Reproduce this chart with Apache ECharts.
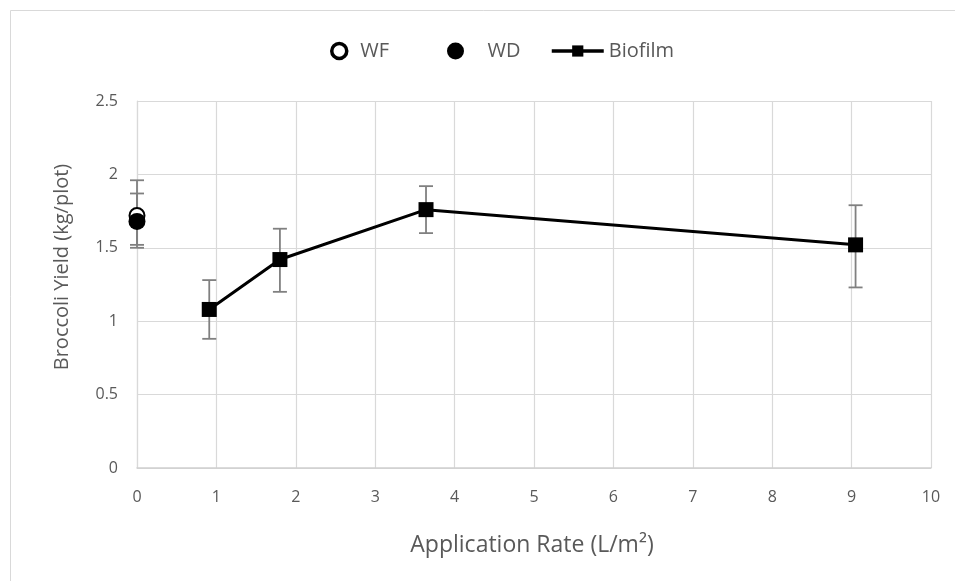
<!DOCTYPE html>
<html>
<head>
<meta charset="utf-8">
<script src="https://cdn.jsdelivr.net/npm/echarts@6/dist/echarts.min.js"></script>
<style>
  html, body { margin: 0; padding: 0; background: #fff; }
  #chart { width: 955px; height: 581px; }
</style>
</head>
<body>
<div id="chart"></div>
<script>
// controls at 0 application rate
const wfX = [0], wfY = [1.72], wfLow = [1.52], wfHigh = [1.96]
const wdX = [0], wdY = [1.68], wdLow = [1.50], wdHigh = [1.87]

// biofilm application
const bioX = [0.91, 1.8, 3.64, 9.05]
const bioY = [1.08, 1.42, 1.76, 1.52]
const bioLow = [0.88, 1.20, 1.60, 1.23]
const bioHigh = [1.28, 1.63, 1.92, 1.79]

const yTicks = [0, 0.5, 1, 1.5, 2, 2.5]

const errData = []
wfX.forEach((x, i) => errData.push([x, wfLow[i], wfHigh[i]]))
wdX.forEach((x, i) => errData.push([x, wdLow[i], wdHigh[i]]))
bioX.forEach((x, i) => errData.push([x, bioLow[i], bioHigh[i]]))

const textColor = '#595959'
const font = '"Open Sans", "Noto Sans", sans-serif'
const legendText = { color: textColor, fontSize: 20, fontFamily: font }

function renderErr(params, api) {
  const x = api.value(0)
  const lo = api.coord([x, api.value(1)])
  const hi = api.coord([x, api.value(2)])
  const cap = 7
  const style = { stroke: '#808080', lineWidth: 1.8 }
  return {
    type: 'group',
    children: [
      { type: 'line', shape: { x1: hi[0], y1: hi[1], x2: lo[0], y2: lo[1] }, style },
      { type: 'line', shape: { x1: hi[0] - cap, y1: hi[1], x2: hi[0] + cap, y2: hi[1] }, style },
      { type: 'line', shape: { x1: lo[0] - cap, y1: lo[1], x2: lo[0] + cap, y2: lo[1] }, style },
    ],
  }
}

const chart = echarts.init(document.getElementById('chart'))
chart.setOption({
  animation: false,
  backgroundColor: '#fff',
  textStyle: { fontFamily: font },
  graphic: [
    {
      type: 'rect',
      shape: { x: 10.5, y: 10.5, width: 960, height: 600 },
      style: { fill: 'none', stroke: '#d9d9d9', lineWidth: 1 },
      silent: true,
    },
    {
      type: 'text',
      x: 62, y: 267,
      rotation: Math.PI / 2,
      style: {
        text: 'Broccoli Yield (kg/plot)',
        fill: textColor, font: '20px ' + font,
        align: 'center', verticalAlign: 'middle',
      },
    },
    {
      type: 'text',
      x: 532, y: 545,
      style: {
        text: 'Application Rate (L/m²)',
        fill: textColor, font: '23px ' + font,
        align: 'center', verticalAlign: 'middle',
      },
    },
  ],
  legend: [
    {
      data: [{ name: 'WF', icon: 'circle', itemStyle: { color: '#fff', borderColor: '#000', borderWidth: 3.5 } }],
      left: 325, top: 36,
      itemWidth: 32, itemHeight: 15,
      textStyle: legendText,
    },
    {
      data: [{ name: 'WD', icon: 'circle', itemStyle: { color: '#000', opacity: 1 } }],
      left: 442, top: 36,
      itemWidth: 54, itemHeight: 17,
      textStyle: legendText,
    },
    {
      data: [{ name: 'Biofilm', lineStyle: { width: 3.5, color: '#000' } }],
      left: 545, top: 36,
      itemWidth: 52, itemHeight: 14,
      textStyle: legendText,
    },
  ],
  grid: { left: 137, right: 24, top: 101, bottom: 113 },
  xAxis: {
    type: 'value', min: 0, max: 10, interval: 1,
    axisLine: { show: true, lineStyle: { color: '#d0d0d0', width: 1.5 } },
    axisTick: { show: false },
    axisLabel: { color: textColor, fontSize: 16, margin: 21 },
    splitLine: { lineStyle: { color: '#d9d9d9', width: 1.2 } },
  },
  yAxis: {
    type: 'value', min: yTicks[0], max: yTicks[yTicks.length - 1], interval: 0.5,
    axisLine: { show: true, lineStyle: { color: '#d9d9d9', width: 1.2 } },
    axisTick: { show: false },
    axisLabel: { color: textColor, fontSize: 16, margin: 19 },
    splitLine: { lineStyle: { color: '#d9d9d9', width: 1.2 } },
  },
  series: [
    {
      name: 'errors',
      type: 'custom',
      renderItem: renderErr,
      data: errData,
      z: 1,
      silent: true,
    },
    {
      name: 'WF',
      type: 'scatter',
      symbol: 'emptyCircle',
      symbolSize: 15,
      data: wfX.map((x, i) => [x, wfY[i]]),
      itemStyle: { color: '#000', borderColor: '#000', borderWidth: 3, opacity: 1 },
      z: 3,
    },
    {
      name: 'WD',
      type: 'scatter',
      symbol: 'circle',
      symbolSize: 17,
      data: wdX.map((x, i) => [x, wdY[i]]),
      itemStyle: { color: '#000', opacity: 1 },
      z: 4,
    },
    {
      name: 'Biofilm',
      type: 'line',
      symbol: 'rect',
      symbolSize: 15,
      data: bioX.map((x, i) => [x, bioY[i]]),
      lineStyle: { color: '#000', width: 3 },
      itemStyle: { color: '#000' },
      z: 3,
    },
  ],
})
</script>
</body>
</html>
